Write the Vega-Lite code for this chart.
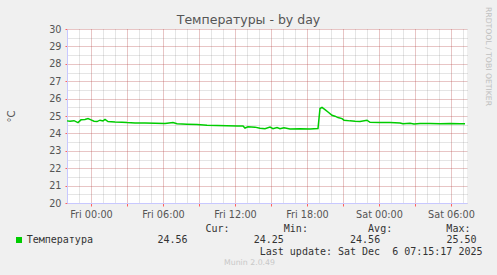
{
  "$schema": "https://vega.github.io/schema/vega-lite/v6.json",
  "width": 400,
  "height": 174,
  "autosize": {"type": "none"},
  "padding": {"left": 67, "top": 29, "right": 30, "bottom": 72},
  "background": "#f0f0f0",
  "config": {"view": {"fill": "white", "stroke": null}},
  "title": {"text": "Температуры - by day", "font": "DejaVu Sans", "fontSize": 12.5, "fontWeight": "normal", "color": "#555555", "anchor": "middle", "frame": "bounds", "offset": -20},
  "data": {"values": [
    {"time": "2025-12-04T22:00", "temp": 24.72},
    {"time": "2025-12-04T22:15", "temp": 24.70},
    {"time": "2025-12-04T22:35", "temp": 24.73},
    {"time": "2025-12-04T22:55", "temp": 24.62},
    {"time": "2025-12-04T23:10", "temp": 24.78},
    {"time": "2025-12-04T23:30", "temp": 24.80},
    {"time": "2025-12-04T23:45", "temp": 24.85},
    {"time": "2025-12-05T00:00", "temp": 24.78},
    {"time": "2025-12-05T00:15", "temp": 24.70},
    {"time": "2025-12-05T00:30", "temp": 24.68},
    {"time": "2025-12-05T00:45", "temp": 24.76},
    {"time": "2025-12-05T01:00", "temp": 24.72},
    {"time": "2025-12-05T01:10", "temp": 24.80},
    {"time": "2025-12-05T01:25", "temp": 24.68},
    {"time": "2025-12-05T02:00", "temp": 24.65},
    {"time": "2025-12-05T02:35", "temp": 24.64},
    {"time": "2025-12-05T03:00", "temp": 24.62},
    {"time": "2025-12-05T03:40", "temp": 24.60},
    {"time": "2025-12-05T04:30", "temp": 24.60},
    {"time": "2025-12-05T05:20", "temp": 24.58},
    {"time": "2025-12-05T06:10", "temp": 24.57},
    {"time": "2025-12-05T06:50", "temp": 24.62},
    {"time": "2025-12-05T07:10", "temp": 24.55},
    {"time": "2025-12-05T08:00", "temp": 24.53},
    {"time": "2025-12-05T08:50", "temp": 24.51},
    {"time": "2025-12-05T09:40", "temp": 24.47},
    {"time": "2025-12-05T10:30", "temp": 24.45},
    {"time": "2025-12-05T11:20", "temp": 24.44},
    {"time": "2025-12-05T12:10", "temp": 24.42},
    {"time": "2025-12-05T12:40", "temp": 24.43},
    {"time": "2025-12-05T12:50", "temp": 24.31},
    {"time": "2025-12-05T13:05", "temp": 24.38},
    {"time": "2025-12-05T13:40", "temp": 24.36},
    {"time": "2025-12-05T14:05", "temp": 24.30},
    {"time": "2025-12-05T14:30", "temp": 24.27},
    {"time": "2025-12-05T14:55", "temp": 24.36},
    {"time": "2025-12-05T15:10", "temp": 24.27},
    {"time": "2025-12-05T15:30", "temp": 24.34},
    {"time": "2025-12-05T15:45", "temp": 24.27},
    {"time": "2025-12-05T16:05", "temp": 24.33},
    {"time": "2025-12-05T16:35", "temp": 24.26},
    {"time": "2025-12-05T17:25", "temp": 24.27},
    {"time": "2025-12-05T18:15", "temp": 24.25},
    {"time": "2025-12-05T18:55", "temp": 24.28},
    {"time": "2025-12-05T19:05", "temp": 25.43},
    {"time": "2025-12-05T19:15", "temp": 25.50},
    {"time": "2025-12-05T19:30", "temp": 25.37},
    {"time": "2025-12-05T19:45", "temp": 25.23},
    {"time": "2025-12-05T20:05", "temp": 25.04},
    {"time": "2025-12-05T20:20", "temp": 24.99},
    {"time": "2025-12-05T20:35", "temp": 24.91},
    {"time": "2025-12-05T20:55", "temp": 24.85},
    {"time": "2025-12-05T21:05", "temp": 24.76},
    {"time": "2025-12-05T21:35", "temp": 24.72},
    {"time": "2025-12-05T22:00", "temp": 24.70},
    {"time": "2025-12-05T22:25", "temp": 24.69},
    {"time": "2025-12-05T23:00", "temp": 24.76},
    {"time": "2025-12-05T23:15", "temp": 24.64},
    {"time": "2025-12-06T00:05", "temp": 24.63},
    {"time": "2025-12-06T00:55", "temp": 24.62},
    {"time": "2025-12-06T01:45", "temp": 24.60},
    {"time": "2025-12-06T02:00", "temp": 24.55},
    {"time": "2025-12-06T02:35", "temp": 24.58},
    {"time": "2025-12-06T02:55", "temp": 24.54},
    {"time": "2025-12-06T03:25", "temp": 24.57},
    {"time": "2025-12-06T04:15", "temp": 24.57},
    {"time": "2025-12-06T05:05", "temp": 24.56},
    {"time": "2025-12-06T05:55", "temp": 24.57},
    {"time": "2025-12-06T06:45", "temp": 24.56},
    {"time": "2025-12-06T07:10", "temp": 24.56}
  ]},
  "layer": [
    {
      "mark": {"type": "line", "strokeWidth": 1.5},
      "encoding": {
        "x": {
          "field": "time", "type": "temporal",
          "scale": {"domain": [{"year": 2025, "month": 12, "date": 4, "hours": 22}, {"year": 2025, "month": 12, "date": 6, "hours": 7, "minutes": 20}]},
          "axis": {
            "orient": "bottom", "grid": true, "gridColor": "#808080", "gridOpacity": 0.4, "gridDash": [1, 1],
            "tickCount": 34, "ticks": false, "labels": false, "domain": false,
            "title": "Munin 2.0.49", "titleFont": "DejaVu Sans", "titleFontSize": 7.8, "titleFontWeight": "normal",
            "titleColor": "#c8c8c8", "titleX": 182, "titleY": 59, "titleAlign": "center", "titleBaseline": "middle"
          }
        },
        "y": {
          "field": "temp", "type": "quantitative",
          "scale": {"domain": [20, 30], "nice": false, "zero": false},
          "axis": {
            "orient": "right", "grid": true, "gridColor": "#808080", "gridOpacity": 0.4, "gridDash": [1, 1],
            "values": [20, 20.5, 21, 21.5, 22, 22.5, 23, 23.5, 24, 24.5, 25, 25.5, 26, 26.5, 27, 27.5, 28, 28.5, 29, 29.5, 30],
            "ticks": false, "labels": false, "domain": false,
            "title": "RRDTOOL / TOBI OETIKER", "titleFont": "DejaVu Sans", "titleFontSize": 7.7, "titleFontWeight": "normal",
            "titleColor": "#c0c0c0", "titleAngle": 90, "titleX": 20, "titleY": 27, "titleAlign": "center", "titleBaseline": "middle"
          }
        },
        "color": {
          "datum": "Температура",
          "scale": {"range": ["#00cc00"]},
          "legend": {
            "orient": "none", "legendX": -53, "legendY": 206, "title": null, "padding": 0,
            "symbolType": "square", "symbolSize": 1, "symbolStrokeWidth": 5,
            "labelFont": "DejaVu Sans Mono", "labelFontSize": 10, "labelColor": "#333333", "labelOffset": 2.7
          }
        }
      }
    },
    {
      "mark": {"type": "line", "opacity": 0},
      "encoding": {
        "x": {
          "field": "time", "type": "temporal",
          "axis": {
            "orient": "bottom", "grid": true, "gridColor": "#ff0000", "gridOpacity": 0.28, "gridDash": [1, 1],
            "tickCount": 11, "tickColor": "#ff6060", "tickSize": 3,
            "domainColor": "#c8c8ff", "labels": false,
            "title": [
              "Cur:\u00a0\u00a0\u00a0\u00a0\u00a0\u00a0\u00a0\u00a0\u00a0Min:\u00a0\u00a0\u00a0\u00a0\u00a0\u00a0\u00a0\u00a0\u00a0\u00a0Avg:\u00a0\u00a0\u00a0\u00a0\u00a0\u00a0\u00a0\u00a0\u00a0Max:\u00a0\u00a0\u200b",
              "24.56\u00a0\u00a0\u00a0\u00a0\u00a0\u00a0\u00a0\u00a0\u00a0\u00a0\u00a024.25\u00a0\u00a0\u00a0\u00a0\u00a0\u00a0\u00a0\u00a0\u00a0\u00a0\u00a024.56\u00a0\u00a0\u00a0\u00a0\u00a0\u00a0\u00a0\u00a0\u00a0\u00a0\u00a025.50\u00a0\u200b",
              "Last update: Sat Dec\u00a0\u00a06 07:15:17 2025"
            ],
            "titleFont": "DejaVu Sans Mono", "titleFontSize": 10, "titleFontWeight": "normal", "titleColor": "#333333",
            "titleX": 415, "titleY": 28, "titleAlign": "right", "titleBaseline": "alphabetic",
            "titleLineHeight": 11.8
          }
        },
        "y": {
          "field": "temp", "type": "quantitative",
          "axis": {
            "orient": "left", "grid": true, "gridColor": "#ff0000", "gridOpacity": 0.28, "gridDash": [1, 1],
            "values": [20, 21, 22, 23, 24, 25, 26, 27, 28, 29, 30],
            "tickColor": "#ff6060", "tickSize": 2, "domainColor": "#c8c8ff",
            "labelFont": "DejaVu Sans", "labelFontSize": 9.7, "labelColor": "#555555", "labelPadding": 4,
            "title": "°C", "titleFont": "DejaVu Sans", "titleFontSize": 10, "titleFontWeight": "normal", "titleColor": "#555555",
            "titleAngle": -90, "titleX": -56, "titleY": 87, "titleAlign": "center", "titleBaseline": "middle"
          }
        }
      }
    },
    {
      "mark": {"type": "line", "opacity": 0},
      "encoding": {
        "x": {
          "field": "time", "type": "temporal",
          "axis": {
            "orient": "bottom", "grid": false, "ticks": false, "domain": false, "tickCount": 6,
            "format": "%a %H:%M", "labelFont": "DejaVu Sans", "labelFontSize": 9.7, "labelColor": "#555555",
            "labelPadding": 6, "labelOverlap": false, "labelFlush": false, "title": null
          }
        },
        "y": {"field": "temp", "type": "quantitative", "axis": null}
      }
    }
  ],
  "resolve": {"axis": {"x": "independent", "y": "independent"}}
}
